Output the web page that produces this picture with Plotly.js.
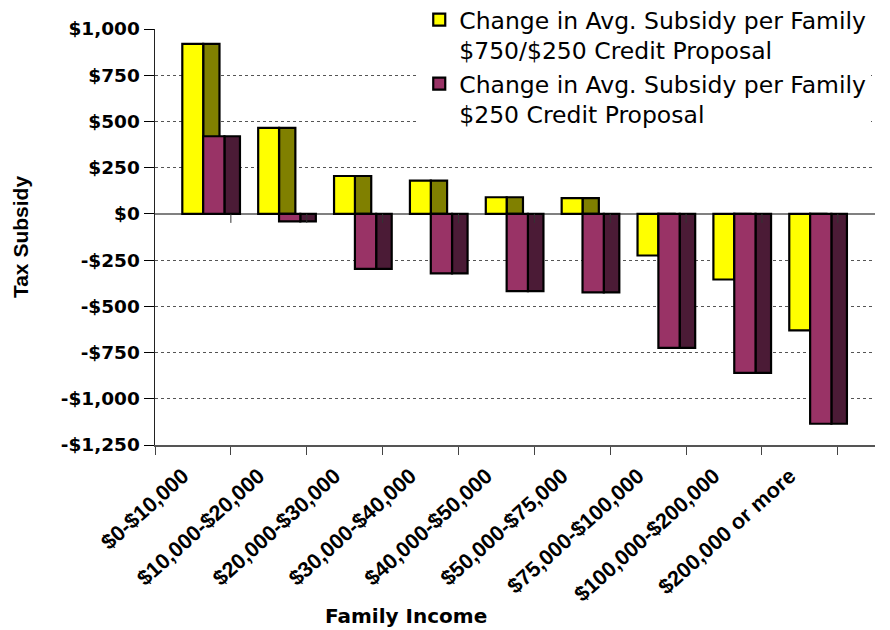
<!DOCTYPE html>
<html>
<head>
<meta charset="utf-8">
<script src="https://cdn.plot.ly/plotly-3.0.1.min.js"></script>
<style>html,body{margin:0;padding:0;background:#fff;}#chart{width:890px;height:630px;}</style>
</head>
<body>
<div id="chart"></div>
<script>
// ---- data ----
var categories = ["$0-$10,000", "$10,000-$20,000", "$20,000-$30,000", "$30,000-$40,000",
                  "$40,000-$50,000", "$50,000-$75,000", "$75,000-$100,000",
                  "$100,000-$200,000", "$200,000 or more"];
var subsidy750_250 = [920, 465, 205, 180, 90, 85, -225, -355, -630];
var subsidy250 = [420, -40, -297, -322, -418, -425, -725, -860, -1135];
var seriesNames = ["Change in Avg. Subsidy per Family<br>$750/$250 Credit Proposal",
                   "Change in Avg. Subsidy per Family<br>$250 Credit Proposal"];
var yTickVals = [1000, 750, 500, 250, 0, -250, -500, -750, -1000, -1250];
var yTickText = ["$1,000", "$750", "$500", "$250", "$0", "-$250", "-$500", "-$750", "-$1,000", "-$1,250"];

// ---- styling ----
var edge = {color: "#000000", width: 2.2};
var traces = [
  {type: "bar", x: categories, y: subsidy750_250, offset: 0.135, width: 0.215,
   marker: {color: "#808000", line: edge}, showlegend: false, hoverinfo: "skip"},
  {type: "bar", x: categories, y: subsidy750_250, offset: -0.14, width: 0.275, name: seriesNames[0],
   marker: {color: "#FFFF00", line: edge}},
  {type: "bar", x: categories, y: subsidy250, offset: 0.415, width: 0.205,
   marker: {color: "#4B1B36", line: edge}, showlegend: false, hoverinfo: "skip"},
  {type: "bar", x: categories, y: subsidy250, offset: 0.135, width: 0.28, name: seriesNames[1],
   marker: {color: "#993366", line: edge}}
];

var zeroTicks = categories.map(function (c, i) {
  return {type: "line", xref: "x", yref: "y", ysizemode: "pixel", yanchor: 0,
          x0: i + 0.5, x1: i + 0.5, y0: 0, y1: -9,
          line: {color: "#333333", width: 1}};
});

var layout = {
  width: 890, height: 630,
  margin: {l: 155, r: 15, t: 29, b: 185, autoexpand: false},
  paper_bgcolor: "#ffffff", plot_bgcolor: "#ffffff",
  barmode: "overlay",
  showlegend: true,
  legend: {x: 0.367, xanchor: "left", y: 1.075, yanchor: "top", bgcolor: "#ffffff",
           borderwidth: 0, valign: "top", traceorder: "normal",
           font: {family: "DejaVu Sans", size: 23.5, color: "#000000"}},
  xaxis: {type: "category", range: [-0.5, 8.99], tickson: "boundaries",
          ticks: "outside", ticklen: 8, tickcolor: "#444444", tickwidth: 1,
          tickangle: -42, ticklabelstandoff: 8, ticklabelshift: -10,
          tickfont: {family: "Liberation Sans", size: 21.5, color: "#000000", weight: "bold"},
          showgrid: false, showline: true, linecolor: "#555555", linewidth: 2,
          zeroline: false, automargin: false, fixedrange: true},
  yaxis: {range: [-1250, 1000], tickmode: "array", tickvals: yTickVals, ticktext: yTickText,
          ticks: "outside", ticklen: 10, tickcolor: "#000000", tickwidth: 1,
          tickfont: {family: "DejaVu Sans", size: 18.5, color: "#000000", weight: "bold"},
          showgrid: true, gridcolor: "#555555", gridwidth: 1, griddash: "dot",
          zeroline: true, zerolinecolor: "#808080", zerolinewidth: 2,
          showline: true, linecolor: "#222222", linewidth: 1.5,
          title: {text: "Tax Subsidy", standoff: 26,
                  font: {family: "Liberation Sans", size: 21, color: "#000000", weight: "bold"}},
          automargin: false, fixedrange: true},
  shapes: zeroTicks,
  annotations: [{text: "Family Income", xref: "paper", yref: "paper", x: 0.349, y: -0.41,
                 xanchor: "center", yanchor: "middle", showarrow: false,
                 font: {family: "DejaVu Sans", size: 20, color: "#000000", weight: "bold"}}]
};

Plotly.newPlot("chart", traces, layout, {displayModeBar: false, staticPlot: true});
</script>
</body>
</html>
